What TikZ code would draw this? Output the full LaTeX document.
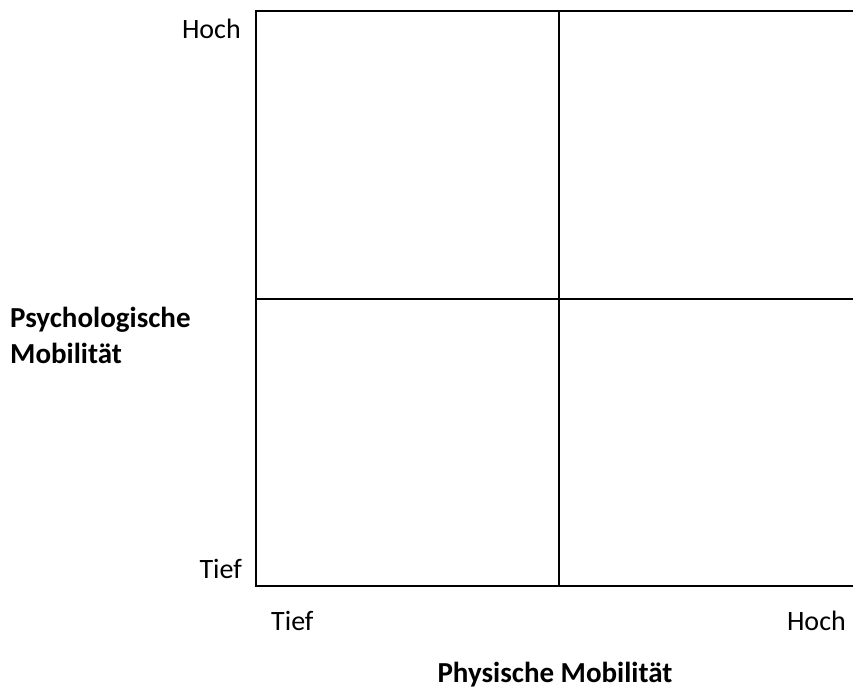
\documentclass[tikz,border=0pt]{standalone}
\usepackage{fontspec}
\setmainfont{Carlito}
\usetikzlibrary{positioning}
\tikzset{
	achse/.style={font=\fontsize{28}{36}\selectfont, inner sep=0pt},
	titel/.style={achse, font=\fontsize{29}{36}\selectfont\bfseries, align=left},
	linie/.style={line width=2.8pt, line cap=rect}
}

\begin{document}
\begin{tikzpicture}[x=1pt, y=-1pt]
		\useasboundingbox (0,0) rectangle (853,688);
		\coordinate (lo) at (256,11);
		\coordinate (ro) at (856,11);
		\coordinate (lu) at (256,586);
		\coordinate (ru) at (856,586);
		\coordinate (mo) at (559,11);
		\coordinate (mu) at (559,586);
		\coordinate (ml) at (256,299);
		\coordinate (mr) at (856,299);
		
		\draw[linie] (ro) -- (lo) -- (lu) -- (ru);
		\draw[linie] (mo) -- (mu);
		\draw[linie] (ml) -- (mr);
		
		\node[achse, anchor=base east] (hochy) at (241,38) {Hoch};
		\node[achse, anchor=base east] (tiefy) at (242,578) {Tief};
		\node[achse, anchor=base west] (tiefx) at (271,630) {Tief};
		\node[achse, anchor=base east] (hochx) at (846,630) {Hoch};
		\node[titel, anchor=base west] (psy) at (10,363) {Psychologische\\Mobilität};
		\node[titel, anchor=base] (phy) at (555,682) {Physische Mobilität};
	\end{tikzpicture}
\end{document}
